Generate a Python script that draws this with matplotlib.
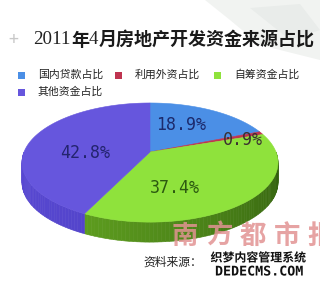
import numpy as np
import matplotlib
matplotlib.use("Agg")
import matplotlib.pyplot as plt
from matplotlib.patches import Rectangle, Polygon
from matplotlib import patheffects as pe

plt.rcParams["font.family"] = ["Noto Sans CJK SC", "DejaVu Sans"]

# ---- data -------------------------------------------------------------
title_parts = [("2011", False), ("年", True), ("4", False),
               ("月房地产开发资金来源占比", True)]
categories = ["国内贷款占比", "利用外资占比", "自筹资金占比", "其他资金占比"]
shares = [18.9, 0.9, 37.4, 42.8]
top_colors = ["#4b8fe6", "#bf3450", "#8fe23c", "#6656dd"]
label_colors = ["#1c2a6c", "#3a3030", "#2c5a10", "#23246e"]
# label anchor points in canvas pixels
label_pos = [(181, 125), (243, 140), (175, 188), (85, 153)]
source_text = "资料来源："
paper_mark = "南方都市报"

# ---- geometry of the tilted disc -------------------------------------
CX, CY, RX, RY, K, DEPTH = 150, 152, 126, 57.7, 0.177, 20


def project(theta_deg, r=1.0, drop=0.0):
    t = np.radians(theta_deg)
    c = r * np.cos(t)
    s = -r * np.sin(t)
    w = 1 - K * s
    return CX + RX * c / w, CY + RY * s / w + drop


fig = plt.figure(figsize=(3.2, 3.0), dpi=100)
ax = fig.add_axes([0, 0, 1, 1])
ax.set_xlim(0, 320)
ax.set_ylim(300, 0)
ax.axis("off")

# faint backdrop shapes in the upper right
for pts, col in [
    ([(205, 0), (320, 0), (320, 60), (260, 45), (230, 20)], "#f1f3f1"),
    ([(250, 8), (300, 4), (320, 30), (290, 40)], "#e9ecea"),
]:
    ax.add_patch(Polygon(pts, closed=True, fc=col, ec="none", zorder=0))

# slice boundaries, clockwise from twelve o'clock
total = sum(shares)
bounds = 90 - 360 * np.concatenate([[0], np.cumsum(shares)]) / total


def lerp(a, b, f):
    return tuple((np.array(a) + (np.array(b) - np.array(a)) * f) / 255.0)


side_shades = [
    ((60, 115, 200), (45, 90, 170)),
    ((150, 40, 60), (120, 30, 45)),
    ((118, 192, 40), (48, 92, 14)),
    ((90, 74, 212), (72, 58, 188)),
]

# front wall (visible where the disc edge faces the viewer: -180..0 deg)
for i in range(len(shares)):
    a0, a1 = bounds[i], bounds[i + 1]
    hi, lo = min(a0, 0.0), max(a1, -180.0)
    if hi <= lo:
        continue
    edges = np.linspace(lo, hi, max(int((hi - lo) / 1.5), 2) + 1)
    for e0, e1 in zip(edges[:-1], edges[1:]):
        f = ((e0 + e1) / 2 + 180) / 180
        col = lerp(side_shades[i][0], side_shades[i][1], f)
        seg = np.linspace(e0, e1, 4)
        xt, yt = project(seg)
        xb, yb = project(seg[::-1], drop=DEPTH)
        ax.fill(np.r_[xt, xb], np.r_[yt, yb], fc=col, ec=col, lw=0.4, zorder=2)

# top faces
for i in range(len(shares)):
    a0, a1 = bounds[i], bounds[i + 1]
    arc = np.linspace(a0, a1, max(int(abs(a0 - a1)), 2) + 1)
    xs, ys = project(arc)
    ax.fill(np.r_[CX, xs], np.r_[CY, ys], fc=top_colors[i], ec=top_colors[i],
            lw=0.4, zorder=3)

# value labels
for txt, (x, y), col in zip([f"{v}%" for v in shares], label_pos, label_colors):
    ax.text(x, y, txt, ha="center", va="center", fontsize=12, color=col,
            family="DejaVu Sans Mono", zorder=5)

# title: plain serif numerals, bold Chinese characters, set one after another
ax.text(13, 40, "+", fontsize=13, color="#c8c8c8", ha="center", va="center")
renderer = fig.canvas.get_renderer()
x_cursor = 33.0
for part, bold in title_parts:
    if bold:
        t = ax.text(x_cursor, 40, part, fontsize=13.0, fontweight="bold",
                    color="#1a1a1a", ha="left", va="center")
    else:
        t = ax.text(x_cursor, 40, part, fontsize=13.6,
                    family=["Liberation Serif", "DejaVu Serif"],
                    color="#222222", ha="left", va="center")
    bb = t.get_window_extent(renderer=renderer)
    x_cursor += bb.width * 320 / fig.bbox.width + 0.3

# legend
legend_xy = [(18, 75), (115, 75), (214, 75), (18, 92)]
for (x, y), col, name in zip(legend_xy, top_colors, categories):
    ax.add_patch(Rectangle((x, y - 3.5), 7, 7, fc=col, ec="none", zorder=4))
    ax.text(x + 20, y, name, fontsize=7.8, color="#222222", ha="left",
            va="center", zorder=4)

# newspaper mark
for j, ch in enumerate(paper_mark):
    ax.text(185 + 34 * j, 236, ch, fontsize=19, fontweight="bold",
            color="#e29393", alpha=0.85, ha="center", va="center", zorder=6)

ax.text(143, 262, source_text, fontsize=8.5, color="#222222", ha="left",
        va="center", zorder=7)
stroke = [pe.withStroke(linewidth=2.2, foreground="white")]
ax.text(258, 258, "织梦内容管理系统", fontsize=8.6, fontweight="bold",
        color="#111111", ha="center", va="center", zorder=8, path_effects=stroke)
ax.text(259, 272, "DEDECMS.COM", fontsize=9.6, fontweight="bold",
        family="DejaVu Sans Mono", color="#111111", ha="center", va="center",
        zorder=8, path_effects=stroke)

fig.savefig("out.png", dpi=100, facecolor="white")
